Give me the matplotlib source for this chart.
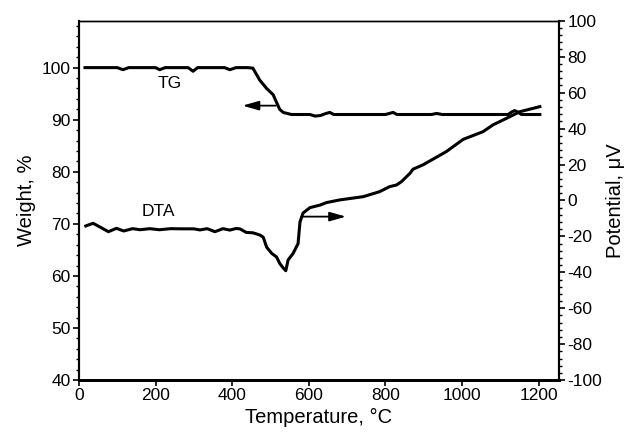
import matplotlib
matplotlib.use('Agg')
import matplotlib.pyplot as plt
from matplotlib.ticker import MultipleLocator

plt.rcParams['font.family'] = ['Liberation Sans', 'DejaVu Sans']
plt.rcParams['axes.unicode_minus'] = False

# TG curve (weight %, left axis)
tg_temp = [16, 100, 115, 130, 200, 211, 225, 285, 298, 310, 380, 394, 410, 440, 454,
           472, 490, 507, 516, 524, 533, 555, 603, 616, 630, 645, 655, 665, 700, 800,
           810, 820, 830, 920, 934, 948, 1120, 1130, 1137, 1145, 1155, 1203]
tg_weight = [100, 100, 99.6, 100, 100, 99.6, 100, 100, 99.3, 100, 100, 99.6, 100, 100, 99.9,
             97.6, 96.0, 94.8, 93.3, 92.0, 91.4, 91.0, 91.0, 90.7, 90.8, 91.2, 91.4, 91.0, 91.0, 91.0,
             91.2, 91.4, 91.0, 91.0, 91.2, 91.0, 91.0, 91.5, 91.75, 91.5, 91.0, 91.0]

# DTA curve (potential uV, right axis)
dta_temp = [18, 37, 57, 77, 98, 117, 140, 160, 185, 210, 240, 270, 300, 316, 335, 355, 376,
            394, 410, 420, 437, 454, 472, 481, 490, 503, 516, 524, 533, 540, 546, 559, 568,
            572, 577, 585, 603, 629, 646, 681, 742, 785, 811, 829, 842, 864, 872, 898, 959,
            1003, 1055, 1081, 1116, 1151, 1203]
dta_uv = [-14.2, -12.7, -15.0, -17.4, -15.5, -17.0, -15.7, -16.3, -15.7, -16.3, -15.7, -15.8,
          -15.8, -16.4, -15.7, -17.4, -15.7, -16.5, -15.6, -15.8, -17.8, -18.0, -19.2, -20.4,
          -26.0, -29.4, -31.5, -35.0, -37.5, -39.1, -33.1, -29.5, -25.7, -24.0, -12.0, -7.0,
          -4.0, -2.6, -1.2, 0.3, 2.1, 4.9, 7.7, 8.6, 10.5, 15.1, 17.4, 19.8, 27.2, 34.0, 38.3,
          42.1, 45.7, 49.4, 52.2]

fig = plt.figure(figsize=(6.26, 4.32), dpi=100)
ax = fig.add_axes([0.126, 0.120, 0.767, 0.832])
ax2 = ax.twinx()

ax.plot(tg_temp, tg_weight, color='black', lw=2.2)
ax2.plot(dta_temp, dta_uv, color='black', lw=2.2)

ax.set_xlim(0, 1253)
ax.set_ylim(40, 109)
ax2.set_ylim(-100, 100)

ax.xaxis.set_major_locator(MultipleLocator(200))
ax.yaxis.set_major_locator(MultipleLocator(10))
ax.yaxis.set_minor_locator(MultipleLocator(2))
ax2.yaxis.set_major_locator(MultipleLocator(20))
ax2.yaxis.set_minor_locator(MultipleLocator(4))

ax.tick_params(axis='both', which='major', direction='out', length=4, width=1.2,
               labelsize=12.5, colors='black', pad=2)
ax.tick_params(axis='y', which='minor', direction='out', length=2.5, width=1.0)
ax2.tick_params(axis='y', which='major', direction='out', length=4, width=1.2,
                labelsize=12.5, pad=2)
ax2.tick_params(axis='y', which='minor', direction='out', length=2.5, width=1.0)

for a in (ax, ax2):
    a.spines['top'].set_linewidth(1.0)
    a.spines['bottom'].set_linewidth(2.0)
    a.spines['left'].set_linewidth(1.5)
    a.spines['right'].set_linewidth(1.5)

ax.set_xlabel('Temperature, \u00b0C', fontsize=14.5, labelpad=3)
ax.set_ylabel('Weight, %', fontsize=14.5, labelpad=4)
ax2.set_ylabel('Potential, \u03bcV', fontsize=14.5, labelpad=3)

ax.text(236, 97.0, 'TG', fontsize=12.5, ha='center', va='center')
ax.text(207, 72.3, 'DTA', fontsize=12.5, ha='center', va='center')

# direction arrows pointing to each curve's axis
arrow = dict(arrowstyle='-|>,head_length=0.7,head_width=0.2', color='black',
             lw=1.3, mutation_scale=14, shrinkA=0, shrinkB=0)
ax.annotate('', xy=(427, 92.7), xytext=(514, 92.7), arrowprops=arrow)
ax2.annotate('', xy=(697, -9.0), xytext=(581, -9.0), arrowprops=arrow)

fig.savefig('out.png', dpi=100)
